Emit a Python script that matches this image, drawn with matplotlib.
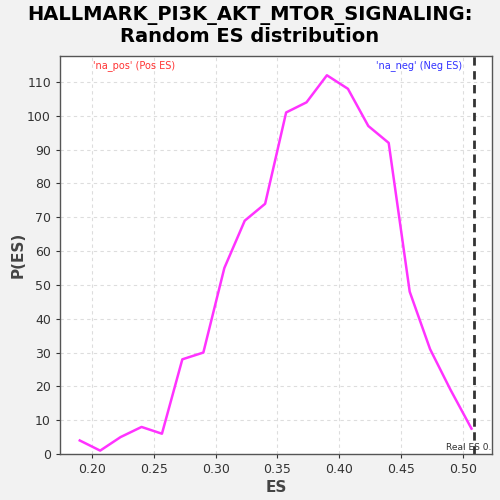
import numpy as np
import matplotlib
matplotlib.use('Agg')
import matplotlib.pyplot as plt

# Random ES distribution (bin centres and counts)
es_vals = [0.190, 0.2065, 0.223, 0.240, 0.2565, 0.273, 0.290, 0.307, 0.3235, 0.340,
           0.357, 0.3735, 0.390, 0.407, 0.4235, 0.440, 0.457, 0.4735, 0.490, 0.507]
p_es = [4, 1, 5, 8, 6, 28, 30, 55, 69, 74,
        101, 104, 112, 108, 97, 92, 48, 31, 19, 7.5]
real_es = 0.509
x_ticks = [0.20, 0.25, 0.30, 0.35, 0.40, 0.45, 0.50]
y_ticks = [0, 10, 20, 30, 40, 50, 60, 70, 80, 90, 100, 110]

fig = plt.figure(figsize=(5, 5), dpi=100, facecolor='#f2f2f2')
ax = fig.add_axes([0.12, 0.092, 0.864, 0.796])
ax.set_facecolor('white')

# Distribution line
ax.plot(es_vals, p_es, color='#ff33ff', linewidth=1.8)
# Real ES marker
ax.axvline(real_es, color='#333333', linestyle=(0, (3, 2)), linewidth=2.0)
ax.text(real_es - 0.0225, 0.6, 'Real ES 0.5', fontsize=6.5, color='#333333',
        ha='left', va='bottom', clip_on=True)

# Axes formatting
ax.set_xlim(0.174, 0.5236)
ax.set_ylim(0, 117.7)
ax.set_xticks(x_ticks)
ax.set_xticklabels([f'{t:.2f}' for t in x_ticks])
ax.set_yticks(y_ticks)
ax.grid(True, color='#dddddd', linestyle=(0, (3, 3)), linewidth=0.8)
ax.tick_params(axis='both', labelsize=9, colors='#333333', length=3)
for s in ax.spines.values():
    s.set_color('#555555')
    s.set_linewidth(1.0)

ax.set_xlabel('ES', fontsize=11, fontweight='bold', color='#444444', labelpad=3)
ax.set_ylabel('P(ES)', fontsize=11, fontweight='bold', color='#444444', labelpad=1)
fig.suptitle('HALLMARK_PI3K_AKT_MTOR_SIGNALING:\nRandom ES distribution',
             fontsize=14, fontweight='bold', y=0.988, linespacing=1.15)

# Legend-like labels
ax.text(0.077, 0.99, "'na_pos' (Pos ES)", transform=ax.transAxes, fontsize=7,
        color='#ff3333', ha='left', va='top')
ax.text(0.93, 0.99, "'na_neg' (Neg ES)", transform=ax.transAxes, fontsize=7,
        color='#3333ff', ha='right', va='top')

plt.savefig('out.png', dpi=100, facecolor=fig.get_facecolor())
plt.close()
